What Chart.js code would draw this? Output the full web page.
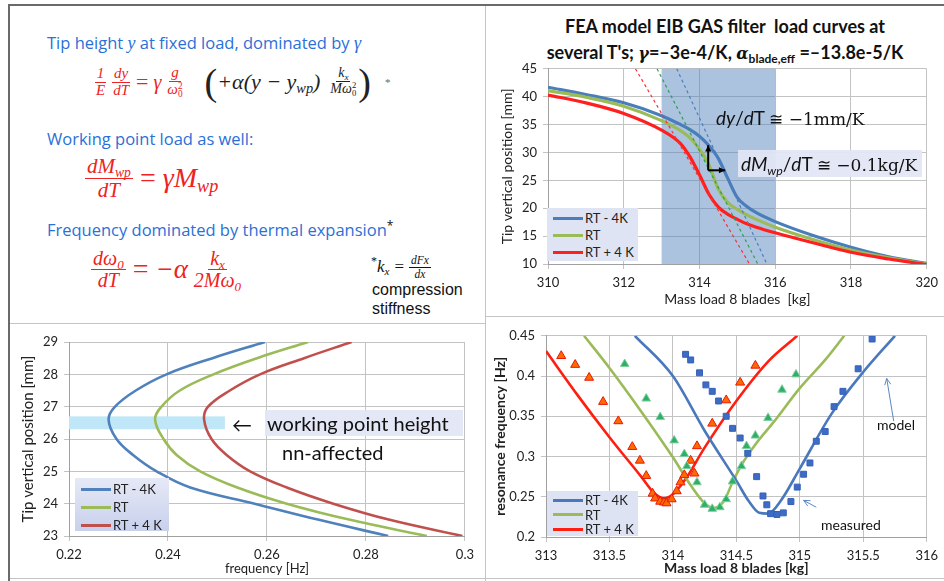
<!DOCTYPE html>
<html>
<head>
<meta charset="utf-8">
<script src="https://cdn.jsdelivr.net/npm/chart.js@4.4.1/dist/chart.umd.min.js"></script>
<style>
  body { margin: 0; width: 944px; height: 581px; background: #fff; position: relative; overflow: hidden; font-family: Lato, sans-serif; }
  .line { position: absolute; }
  canvas { position: absolute; }
  .txt { position: absolute; white-space: nowrap; font-family: "Open Sans", sans-serif; font-size: 16.5px; color: #2a70d8; }
  .sv { font-family: "Liberation Serif", serif; font-style: italic; font-size: 18px; }
  .eq { position: absolute; display: flex; align-items: center; white-space: nowrap; font-family: "Liberation Serif", serif; font-style: italic; color: #ee2222; }
  .fr { display: inline-flex; flex-direction: column; align-items: center; }
  .fr > span { display: block; line-height: 1.05; padding: 0 2px; }
  .fr > .n { border-bottom: 1.6px solid currentColor; }
  .ss { display: inline-flex; flex-direction: column; font-size: 0.62em; line-height: 0.9; vertical-align: middle; font-style: normal; }
  sub { font-size: 0.65em; vertical-align: -0.3em; line-height: 0; }
  .up { font-style: normal; }
  .legend { position: absolute; font-family: Lato, sans-serif; font-size: 13px; color: #222; box-sizing: border-box; padding: 2px 0 0 6px; }
  .li { display: flex; align-items: center; white-space: nowrap; }
  .sw { display: inline-block; width: 30px; height: 3px; margin-right: 2px; }
  .note { position: absolute; white-space: nowrap; font-family: Lato, sans-serif; color: #111; }
</style>
</head>
<body>

<!-- panel frame -->
<div class="line" style="left:8px;top:4px;width:936px;height:2px;background:#6a6a6a"></div>
<div class="line" style="left:8px;top:4px;width:2px;height:577px;background:#6a6a6a"></div>
<div class="line" style="left:485px;top:6px;width:1px;height:575px;background:#c4c4c4"></div>
<div class="line" style="left:486px;top:316px;width:458px;height:1px;background:#c4c4c4"></div>
<div class="line" style="left:10px;top:323px;width:475px;height:1px;background:#c4c4c4"></div>
<div class="line" style="left:10px;top:578px;width:934px;height:1px;background:#c4c4c4"></div>

<!-- left text + equations -->
<div class="txt" style="left:47px;top:31px">Tip height <i class="sv">y</i> at fixed load, dominated by <i class="sv">γ</i></div>

<div class="eq" style="left:94px;top:61px;height:42px;font-size:15px">
  <span class="fr"><span class="n">1</span><span>E</span></span>
  <span class="fr" style="margin-left:4px"><span class="n">dy</span><span>dT</span></span>
  <span class="up" style="margin:0 5px;font-size:22px">=</span>
  <span style="font-size:20px">γ</span>
  <span class="fr" style="margin-left:4px"><span class="n">g</span><span>ω<span class="ss"><span>2</span><span>0</span></span></span></span>
  <span class="up" style="margin-left:20px;font-size:38px;color:#222;font-weight:300">(</span>
  <span style="font-size:22px;color:#222">+α(y − y<sub>wp</sub>)</span>
  <span class="fr" style="margin-left:8px;color:#222;font-size:14px"><span class="n">k<sub>x</sub></span><span>Mω<span class="ss"><span>2</span><span>0</span></span></span></span>
  <span class="up" style="font-size:38px;color:#222;font-weight:300">)</span>
  <span class="up" style="margin-left:14px;font-size:11px;color:#666">*</span>
</div>

<div class="txt" style="left:47px;top:127px">Working point load as well:</div>

<div class="eq" style="left:85px;top:150px;height:56px;font-size:21px">
  <span class="fr"><span class="n">dM<sub>wp</sub></span><span>dT</span></span>
  <span class="up" style="margin:0 7px;font-size:28px">=</span>
  <span style="font-size:28px">γM<sub>wp</sub></span>
</div>

<div class="txt" style="left:47px;top:217px">Frequency dominated by thermal expansion<span style="color:#111;font-size:12px;vertical-align:6px">*</span></div>

<div class="eq" style="left:91px;top:241px;height:56px;font-size:20px">
  <span class="fr"><span class="n">dω<sub>0</sub></span><span>dT</span></span>
  <span class="up" style="margin:0 7px;font-size:28px">=</span>
  <span style="font-size:27px">−α</span>
  <span class="fr" style="margin-left:4px"><span class="n">k<sub>x</sub></span><span>2Mω<sub>0</sub></span></span>
</div>

<div class="eq" style="left:371px;top:250px;height:34px;font-size:17px;color:#111">
  <span class="up" style="font-size:12px;align-self:flex-start;margin-top:4px">*</span>
  <span>k<sub>x</sub></span>
  <span class="up" style="margin:0 5px">=</span>
  <span class="fr" style="font-size:11.5px"><span class="n">dFx</span><span>dx</span></span>
</div>
<div class="note" style="left:372px;top:280px;font-family:'Liberation Sans',Arial,sans-serif;font-size:16px;line-height:19px">compression<br>stiffness</div>

<!-- top right chart -->
<div class="note" style="left:490px;top:13px;width:470px;text-align:center;font-weight:bold;font-size:18px;line-height:26px">FEA model EIB GAS filter&nbsp; load curves at<br>several T's; <i style="font-family:'DejaVu Serif',serif;font-size:16px">γ</i>=–3e-4/K, <i style="font-family:'DejaVu Serif',serif;font-size:16px">α</i><sub style="font-size:12px">blade,eff</sub> =–13.8e-5/K</div>
<canvas id="loadChart" width="454" height="255" style="left:490px;top:55px"></canvas>
<div class="note" style="left:716px;top:106px;font-size:19px;z-index:2"><i>dy</i>/<i>d</i>T <span style="font-family:'DejaVu Serif',serif;font-size:17px">≅ −1mm/K</span></div>
<div class="note" style="left:738px;top:150px;width:184px;height:27px;background:rgba(226,230,246,0.95);font-size:19px;line-height:27px;padding-left:3px;box-sizing:border-box;z-index:2"><i>dM<sub>wp</sub></i>/<i>d</i>T <span style="font-family:'DejaVu Serif',serif;font-size:17px">≅ −0.1kg/K</span></div>
<div id="legTop" class="legend" style="left:547px;top:208px;width:91px;height:53px;background:#dfe4f4;line-height:17px"></div>

<!-- bottom left chart -->
<canvas id="freqChart" width="470" height="254" style="left:10px;top:325px"></canvas>
<div class="note" style="left:232px;top:412px;font-size:20px">&#8592;</div>
<div class="note" style="left:265px;top:410px;width:198px;height:26px;background:rgba(226,230,246,0.95);font-size:20px;line-height:26px;padding-left:2px;box-sizing:border-box">working point height</div>
<div class="note" style="left:282px;top:439px;font-size:20px;line-height:26px">nn-affected</div>
<div id="legLeft" class="legend" style="left:75px;top:478px;width:94px;height:53px;background:linear-gradient(#e6e9f6,#c8d0ec);line-height:18px"></div>

<!-- bottom right chart -->
<canvas id="resChart" width="456" height="257" style="left:488px;top:322px"></canvas>
<div class="note" style="left:877px;top:416px;font-size:14px">model</div>
<div class="note" style="left:821px;top:516px;font-size:14px">measured</div>
<div id="legRight" class="legend" style="left:547px;top:491px;width:91px;height:45px;background:#dee3f3;line-height:14.5px"></div>

<script>
'use strict';

Chart.defaults.font.family = 'Lato, sans-serif';
Chart.defaults.color = '#222';

const seriesNames = ['RT - 4K', 'RT', 'RT + 4 K'];

// FEA load curves: tip height vs mass load
const loadMass = [310, 311, 312, 313, 313.5, 313.75, 314, 314.25, 314.5, 314.75, 315, 315.25, 315.5, 316, 317, 318, 319, 320];
const tipRTm4 = [41.7, 40.4, 38.9, 36.6, 35.0, 34.1, 32.9, 31.2, 28.9, 25.3, 21.9, 20.3, 19.2, 17.6, 15.1, 13.0, 11.3, 10.1];
const tipRT = [41.1, 39.9, 38.3, 35.7, 33.9, 32.6, 30.6, 27.8, 23.4, 21.0, 19.8, 18.8, 18.0, 16.6, 14.4, 12.5, 11.1, 10.0];
const tipRTp4 = [40.3, 38.9, 37.0, 34.0, 31.6, 29.2, 26.0, 22.5, 20.2, 18.9, 18.0, 17.2, 16.6, 15.6, 13.8, 12.1, 10.9, 9.9];
// dashed tangents (mass at tip 45 and at tip 10)
const tangentTip = [45, 10];
const tangentRTm4 = [313.4, 315.78];
const tangentRT = [312.88, 315.54];
const tangentRTp4 = [312.31, 315.32];
const shadeMass = [313, 316];
const arrowBase = [314.23, 26.8];
const arrowUpTip = 31.3;
const arrowRightMass = 314.68;

// frequency vs tip height
const tipHeight = [23, 23.5, 24, 24.5, 25, 25.5, 26, 26.6, 27, 27.5, 28, 28.5, 29];
const freqRTm4 = [0.2845, 0.2705, 0.2575, 0.2445, 0.2377, 0.2330, 0.2296, 0.2280, 0.2293, 0.2335, 0.2397, 0.2490, 0.2596];
const freqRT = [0.2923, 0.2768, 0.2640, 0.2540, 0.2465, 0.2418, 0.2391, 0.2374, 0.2387, 0.2424, 0.2492, 0.2580, 0.2683];
const freqRTp4 = [0.2995, 0.2848, 0.2734, 0.2640, 0.2566, 0.2519, 0.2488, 0.2473, 0.2481, 0.2525, 0.2586, 0.2675, 0.2771];
const wpBandTip = [26.3, 26.7];
const wpBandFreq = [0.22, 0.2515];

// resonance frequency vs mass load: model
const modelMassRTm4 = [313.7, 314.0, 314.25, 314.5, 314.6, 314.68, 314.75, 314.85, 315.0, 315.25, 315.5, 315.75];
const modelFreqRTm4 = [0.45, 0.40, 0.332, 0.27, 0.244, 0.230, 0.229, 0.245, 0.285, 0.353, 0.405, 0.45];
const modelMassRT = [313.3, 313.5, 313.75, 314.0, 314.15, 314.25, 314.32, 314.4, 314.47, 314.55, 314.65, 314.8, 315.0, 315.2, 315.35];
const modelFreqRT = [0.45, 0.41, 0.356, 0.299, 0.262, 0.242, 0.236, 0.244, 0.268, 0.292, 0.315, 0.344, 0.385, 0.42, 0.45];
const modelMassRTp4 = [313, 313.25, 313.5, 313.75, 313.85, 313.93, 314.0, 314.1, 314.25, 314.5, 314.75, 314.98];
const modelFreqRTp4 = [0.431, 0.376, 0.324, 0.275, 0.255, 0.248, 0.253, 0.272, 0.311, 0.369, 0.418, 0.45];
// measured
const measMassRTm4 = [314.1, 314.14, 314.21, 314.26, 314.31, 314.36, 314.42, 314.47, 314.53, 314.59, 314.66, 314.71, 314.74, 314.77, 314.82, 314.87, 314.93, 314.98, 315.03, 315.08, 315.13, 315.2, 315.27, 315.34, 315.46, 315.57];
const measFreqRTm4 = [0.427, 0.42, 0.404, 0.389, 0.381, 0.369, 0.35, 0.335, 0.323, 0.304, 0.275, 0.251, 0.24, 0.229, 0.228, 0.23, 0.244, 0.262, 0.278, 0.292, 0.319, 0.331, 0.362, 0.381, 0.409, 0.446];
const measMassRT = [313.62, 313.79, 313.9, 314.01, 314.09, 314.11, 314.19, 314.25, 314.31, 314.37, 314.42, 314.47, 314.54, 314.58, 314.65, 314.75, 314.86, 314.97];
const measFreqRT = [0.415, 0.372, 0.349, 0.32, 0.303, 0.288, 0.268, 0.24, 0.235, 0.237, 0.247, 0.269, 0.288, 0.313, 0.326, 0.348, 0.383, 0.402];
const measMassRTp4 = [313.12, 313.23, 313.34, 313.45, 313.57, 313.68, 313.74, 313.79, 313.84, 313.86, 313.9, 313.93, 313.95, 313.99, 314.03, 314.06, 314.09, 314.14, 314.17, 314.19, 314.31, 314.42, 314.53, 314.65];
const measFreqRTp4 = [0.425, 0.414, 0.398, 0.368, 0.344, 0.312, 0.295, 0.276, 0.254, 0.248, 0.244, 0.243, 0.242, 0.247, 0.257, 0.268, 0.277, 0.295, 0.279, 0.313, 0.341, 0.37, 0.392, 0.413];
// annotation arrows [fromX, fromY, toX, toY]
const modelArrow = [315.74, 0.344, 315.685, 0.397];
const measuredArrow = [315.13, 0.237, 315.03, 0.2455];

const pts = (xs, ys) => xs.map((x, i) => ({ x: x, y: ys[i] }));

function drawArrow(ctx, x0, y0, x1, y1, head, filled) {
  const a = Math.atan2(y1 - y0, x1 - x0);
  ctx.beginPath();
  ctx.moveTo(x0, y0);
  ctx.lineTo(x1, y1);
  ctx.stroke();
  ctx.beginPath();
  ctx.moveTo(x1 - head * Math.cos(a - 0.45), y1 - head * Math.sin(a - 0.45));
  ctx.lineTo(x1, y1);
  ctx.lineTo(x1 - head * Math.cos(a + 0.45), y1 - head * Math.sin(a + 0.45));
  if (filled) { ctx.closePath(); ctx.fill(); } else { ctx.stroke(); }
}

function makeLegend(id, colors) {
  const el = document.getElementById(id);
  seriesNames.forEach((name, i) => {
    const row = document.createElement('div');
    row.className = 'li';
    row.innerHTML = '<span class="sw" style="background:' + colors[i] + '"></span>' + name;
    el.appendChild(row);
  });
}

// plain number labels like Excel: 0.3, 313, 0.45
const plainTick = v => String(Number(v.toFixed(4)));

function axis(min, max, step, title, tsize, bold, fit) {
  return {
    type: 'linear', min: min, max: max,
    ticks: { stepSize: step, font: { size: 13 }, padding: 6, callback: plainTick },
    grid: { color: '#c3c3c3', tickLength: 5 },
    border: { color: '#a0a0a0' },
    title: { display: true, text: title, font: { size: tsize, weight: bold ? 'bold' : 'normal' }, padding: { top: 4, bottom: 2 } },
    afterFit: fit
  };
}

const lineDs = (data, color, width) => ({
  data: data, showLine: true, borderColor: color, borderWidth: width, pointRadius: 0,
  cubicInterpolationMode: 'monotone', order: 1
});

// ---------- top right ----------
const topColors = ['#4a7ebb', '#9bbb59', '#ff1f1f'];
new Chart(document.getElementById('loadChart'), {
  type: 'scatter',
  data: {
    datasets: [
      lineDs(pts(loadMass, tipRTp4), topColors[2], 3.2),
      lineDs(pts(loadMass, tipRT), topColors[1], 3.2),
      lineDs(pts(loadMass, tipRTm4), topColors[0], 3.2),
      { data: pts(tangentRTp4, tangentTip), showLine: true, borderColor: '#ff3030', borderWidth: 1.2, borderDash: [3, 3], pointRadius: 0 },
      { data: pts(tangentRT, tangentTip), showLine: true, borderColor: '#2ea050', borderWidth: 1.2, borderDash: [3, 3], pointRadius: 0 },
      { data: pts(tangentRTm4, tangentTip), showLine: true, borderColor: '#4a7ebb', borderWidth: 1.2, borderDash: [3, 3], pointRadius: 0 }
    ]
  },
  options: {
    responsive: false, animation: false,
    layout: { padding: { left: 5, top: 10, right: 13, bottom: 0 } },
    plugins: { legend: { display: false }, tooltip: { enabled: false } },
    scales: {
      x: axis(310, 320, 2, 'Mass load 8 blades  [kg]', 14, false, s => { s.height = 46; }),
      y: axis(10, 45, 5, 'Tip vertical position [mm]', 14, false, s => { s.width = 53; })
    }
  },
  plugins: [{
    id: 'shadeArrows',
    beforeDatasetsDraw(chart) {
      const { ctx, chartArea, scales: { x } } = chart;
      const x0 = x.getPixelForValue(shadeMass[0]);
      const x1 = x.getPixelForValue(shadeMass[1]);
      ctx.save();
      ctx.fillStyle = 'rgba(79,129,189,0.48)';
      ctx.fillRect(x0, chartArea.top, x1 - x0, chartArea.bottom - chartArea.top);
      ctx.restore();
    },
    afterDatasetsDraw(chart) {
      const { ctx, scales: { x, y } } = chart;
      const bx = x.getPixelForValue(arrowBase[0]);
      const by = y.getPixelForValue(arrowBase[1]);
      ctx.save();
      ctx.strokeStyle = '#000';
      ctx.fillStyle = '#000';
      ctx.lineWidth = 2;
      drawArrow(ctx, bx, by, bx, y.getPixelForValue(arrowUpTip), 7, true);
      drawArrow(ctx, bx, by, x.getPixelForValue(arrowRightMass), by, 7, true);
      ctx.restore();
    }
  }]
});
makeLegend('legTop', topColors);

// ---------- bottom left ----------
const leftColors = ['#4f81bd', '#9bbb59', '#c0504d'];
const sideDs = (data, color) => ({
  data: data, showLine: true, borderColor: color, borderWidth: 2.6, pointRadius: 0, tension: 0.4
});
new Chart(document.getElementById('freqChart'), {
  type: 'scatter',
  data: {
    datasets: [
      sideDs(pts(freqRTm4, tipHeight), leftColors[0]),
      sideDs(pts(freqRT, tipHeight), leftColors[1]),
      sideDs(pts(freqRTp4, tipHeight), leftColors[2])
    ]
  },
  options: {
    responsive: false, animation: false,
    layout: { padding: { left: 5, top: 17, right: 15, bottom: 0 } },
    plugins: { legend: { display: false }, tooltip: { enabled: false } },
    scales: {
      x: axis(0.22, 0.3, 0.02, 'frequency [Hz]', 13, false, s => { s.height = 43; }),
      y: axis(23, 29, 1, 'Tip vertical position [mm]', 15, false, s => { s.width = 54; })
    }
  },
  plugins: [{
    id: 'wpBand',
    beforeDatasetsDraw(chart) {
      const { ctx, scales: { x, y } } = chart;
      const x0 = x.getPixelForValue(wpBandFreq[0]);
      const x1 = x.getPixelForValue(wpBandFreq[1]);
      const y0 = y.getPixelForValue(wpBandTip[1]);
      const y1 = y.getPixelForValue(wpBandTip[0]);
      ctx.save();
      ctx.fillStyle = '#bfe7f8';
      ctx.fillRect(x0, y0, x1 - x0, y1 - y0);
      ctx.restore();
    }
  }]
});
makeLegend('legLeft', leftColors);

// ---------- bottom right ----------
const resColors = ['#4a78bd', '#9bbb59', '#ff1f10'];
const markDs = (data, style, fill, edge, r) => ({
  data: data, pointStyle: style, pointRadius: r, backgroundColor: fill, borderColor: edge, borderWidth: 1, order: 0
});
new Chart(document.getElementById('resChart'), {
  type: 'scatter',
  data: {
    datasets: [
      markDs(pts(measMassRTm4, measFreqRTm4), 'rect', '#3d6cc4', '#3560b8', 4.2),
      markDs(pts(measMassRT, measFreqRT), 'triangle', '#2fae68', '#7fd0a0', 5),
      markDs(pts(measMassRTp4, measFreqRTp4), 'triangle', '#ff6a00', '#e81808', 5.2),
      lineDs(pts(modelMassRTm4, modelFreqRTm4), resColors[0], 2.6),
      lineDs(pts(modelMassRT, modelFreqRT), resColors[1], 2.6),
      lineDs(pts(modelMassRTp4, modelFreqRTp4), resColors[2], 2.6)
    ]
  },
  options: {
    responsive: false, animation: false,
    layout: { padding: { left: 0, top: 12, right: 8, bottom: 0 } },
    plugins: { legend: { display: false }, tooltip: { enabled: false } },
    scales: {
      x: axis(313, 316, 0.5, 'Mass load 8 blades [kg]', 14, true, s => { s.height = 42; }),
      y: axis(0.2, 0.45, 0.05, 'resonance frequency [Hz]', 14, true, s => { s.width = 58; })
    }
  },
  plugins: [{
    id: 'noteArrows',
    afterDatasetsDraw(chart) {
      const { ctx, scales: { x, y } } = chart;
      ctx.save();
      ctx.strokeStyle = '#5b86c4';
      ctx.lineWidth = 1;
      [modelArrow, measuredArrow].forEach(a => {
        drawArrow(ctx, x.getPixelForValue(a[0]), y.getPixelForValue(a[1]),
          x.getPixelForValue(a[2]), y.getPixelForValue(a[3]), 7, false);
      });
      ctx.restore();
    }
  }]
});
makeLegend('legRight', resColors);
</script>
</body>
</html>
